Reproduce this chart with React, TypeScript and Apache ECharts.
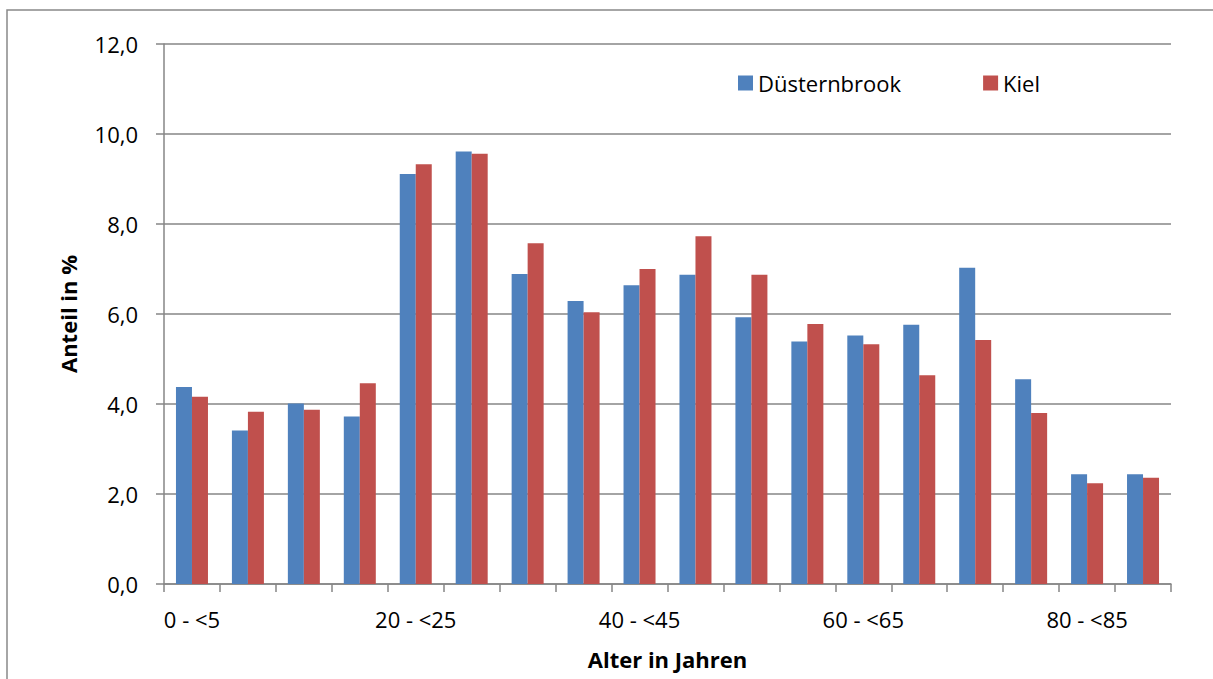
import React, { useEffect, useRef } from "react";
import * as echarts from "echarts";

const categories = [
  "0 - <5", "5 - <10", "10 - <15", "15 - <20", "20 - <25", "25 - <30",
  "30 - <35", "35 - <40", "40 - <45", "45 - <50", "50 - <55", "55 - <60",
  "60 - <65", "65 - <70", "70 - <75", "75 - <80", "80 - <85", "85 - <90",
];
const duesternbrook = [4.38, 3.41, 4.01, 3.72, 9.11, 9.61, 6.89, 6.29, 6.64, 6.87, 5.93, 5.39, 5.52, 5.76, 7.03, 4.55, 2.44, 2.44];
const kiel = [4.16, 3.83, 3.87, 4.46, 9.33, 9.56, 7.57, 6.04, 7.0, 7.73, 6.87, 5.78, 5.33, 4.64, 5.42, 3.8, 2.24, 2.36];
const seriesNames = ["Düsternbrook", "Kiel"];
const yTitle = "Anteil in %";
const xTitle = "Alter in Jahren";

const FONT = "'Open Sans', 'Noto Sans', sans-serif";
const GRAY = "#868686";

export default function App() {
  const ref = useRef<HTMLDivElement>(null);
  useEffect(() => {
    if (!ref.current) return;
    const chart = echarts.init(ref.current, null, { renderer: "svg" });
    chart.setOption({
      animation: false,
      backgroundColor: "#ffffff",
      textStyle: { fontFamily: FONT },
      graphic: [
        {
          type: "rect",
          shape: { x: 7, y: 10, width: 1250, height: 720 },
          style: { fill: "none", stroke: "#898989", lineWidth: 1.5 },
          silent: true,
        },
      ],
      legend: {
        left: 733,
        top: 67,
        itemWidth: 15,
        itemHeight: 15,
        itemGap: 82,
        icon: "rect",
        textStyle: { fontFamily: FONT, fontSize: 22, color: "#000" },
        data: seriesNames,
      },
      grid: { left: 164, top: 44, width: 1007, height: 540, containLabel: false },
      xAxis: {
        type: "category",
        data: categories,
        name: xTitle,
        nameLocation: "middle",
        nameGap: 64,
        nameTextStyle: { fontFamily: FONT, fontSize: 22, fontWeight: "bold", color: "#000" },
        axisLine: { show: true, lineStyle: { color: GRAY, width: 1.5 } },
        axisTick: { show: true, interval: 0, length: 8, lineStyle: { color: GRAY, width: 1.5 } },
        axisLabel: { interval: 3, margin: 24, fontFamily: FONT, fontSize: 22, color: "#000" },
        splitLine: { show: false },
      },
      yAxis: {
        type: "value",
        min: 0,
        max: 12,
        interval: 2,
        name: yTitle,
        nameLocation: "middle",
        nameRotate: 90,
        nameGap: 85,
        nameTextStyle: { fontFamily: FONT, fontSize: 22, fontWeight: "bold", color: "#000" },
        axisLine: { show: true, lineStyle: { color: GRAY, width: 1.5 } },
        axisTick: { show: true, length: 8, lineStyle: { color: GRAY, width: 1.5 } },
        axisLabel: {
          margin: 26,
          fontFamily: FONT,
          fontSize: 22,
          color: "#000",
          formatter: (v: number) => v.toFixed(1).replace(".", ","),
        },
        splitLine: { show: true, lineStyle: { color: GRAY, width: 1.5 } },
      },
      series: [
        {
          name: seriesNames[0],
          type: "bar",
          data: duesternbrook,
          barWidth: 16,
          barGap: "0%",
          itemStyle: { color: "#4F81BD" },
        },
        {
          name: seriesNames[1],
          type: "bar",
          data: kiel,
          barWidth: 16,
          barGap: "0%",
          itemStyle: { color: "#C0504D" },
        },
      ],
    });
    return () => chart.dispose();
  }, []);
  return (
    <div
      ref={ref}
      style={{ position: "fixed", left: 0, top: 0, width: 1213, height: 679, background: "#fff" }}
    />
  );
}
